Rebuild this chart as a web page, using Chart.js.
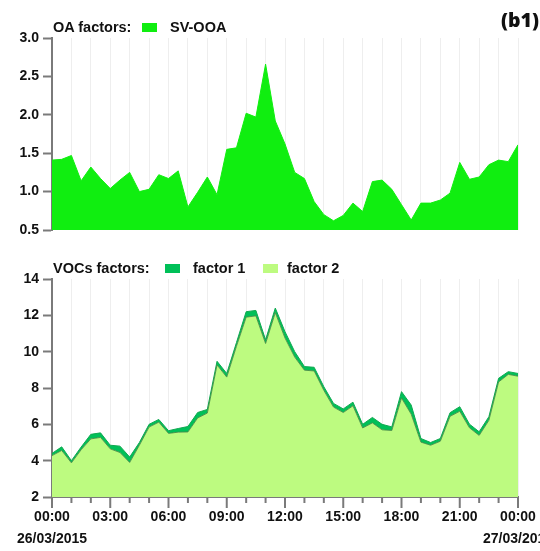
<!DOCTYPE html>
<html>
<head>
<meta charset="utf-8">
<script src="https://cdn.jsdelivr.net/npm/chart.js@4"></script>
<style>
  body { margin: 0; background: #fff; width: 540px; height: 551px; overflow: hidden; position: relative;
         font-family: "Liberation Sans", Arial, sans-serif; font-weight: bold; color: #111; }
  #top { position: absolute; left: 0; top: 0; }
  #bottom { position: absolute; left: 0; top: 245px; }
  .leg { position: absolute; font-size: 14.5px; line-height: 16px; white-space: nowrap; }
  .sw { position: absolute; width: 15px; height: 9px; }
  #tag { position: absolute; right: 1px; top: 6px; font-family: "Open Sans", sans-serif; font-weight: 800; font-size: 19.5px; }
</style>
</head>
<body>
<canvas id="top" width="540" height="245"></canvas>
<canvas id="bottom" width="540" height="306"></canvas>

<div class="leg" style="left:53px; top:19px;">OA factors:</div>
<div class="sw" style="left:142px; top:23px; background:#10ee10;"></div>
<div class="leg" style="left:170px; top:19px;">SV-OOA</div>

<div class="leg" style="left:53px; top:260px;">VOCs factors:</div>
<div class="sw" style="left:165px; top:264px; background:#00c058;"></div>
<div class="leg" style="left:193px; top:260px;">factor 1</div>
<div class="sw" style="left:263px; top:264px; background:#bdfb80;"></div>
<div class="leg" style="left:287px; top:260px;">factor 2</div>

<div id="tag">(b1)</div>

<script>
// half-hourly time of day, 26/03/2015 00:00 -> 27/03/2015 00:00
const hours = [0, 0.5, 1, 1.5, 2, 2.5, 3, 3.5, 4, 4.5, 5, 5.5, 6, 6.5, 7, 7.5, 8, 8.5, 9, 9.5,
  10, 10.5, 11, 11.5, 12, 12.5, 13, 13.5, 14, 14.5, 15, 15.5, 16, 16.5, 17, 17.5, 18, 18.5, 19, 19.5,
  20, 20.5, 21, 21.5, 22, 22.5, 23, 23.5, 24];

const svOOA = [1.41, 1.42, 1.47, 1.14, 1.32, 1.17, 1.04, 1.15, 1.25, 1.00, 1.03, 1.22, 1.17, 1.27, 0.80, 0.99,
  1.19, 0.96, 1.55, 1.57, 2.02, 1.97, 2.66, 1.92, 1.62, 1.25, 1.17, 0.87, 0.70, 0.62, 0.69, 0.85,
  0.74, 1.13, 1.15, 1.03, 0.83, 0.63, 0.85, 0.85, 0.89, 0.98, 1.38, 1.16, 1.19, 1.35, 1.41, 1.39, 1.61];

const factor2 = [4.28, 4.56, 3.88, 4.60, 5.20, 5.28, 4.65, 4.45, 3.90, 4.85, 5.85, 6.12, 5.50, 5.57, 5.58, 6.35,
  6.62, 9.27, 8.60, 10.30, 11.90, 11.97, 10.45, 12.15, 10.75, 9.70, 8.98, 8.94, 7.87, 6.95, 6.65, 7.02,
  5.80, 6.08, 5.70, 5.66, 7.45, 6.56, 5.02, 4.85, 5.07, 6.44, 6.72, 5.81, 5.39, 6.22, 8.33, 8.75, 8.65];

const factor1 = [0.12, 0.20, 0.12, 0.15, 0.25, 0.25, 0.20, 0.35, 0.30, 0.15, 0.15, 0.15, 0.15, 0.20, 0.30, 0.30,
  0.20, 0.20, 0.20, 0.20, 0.30, 0.30, 0.20, 0.25, 0.35, 0.30, 0.20, 0.20, 0.20, 0.20, 0.20, 0.20,
  0.20, 0.30, 0.30, 0.20, 0.35, 0.50, 0.20, 0.15, 0.15, 0.20, 0.25, 0.20, 0.20, 0.20, 0.20, 0.15, 0.15];

const startDate = '26/03/2015';
const endDate = '27/03/2015';

const axisGray = '#7a7a7a';
const tickFont = { family: 'Liberation Sans', weight: 'bold', size: 14 };

const pts = arr => arr.map((v, i) => ({ x: hours[i], y: v }));
const hh = v => String(v % 24).padStart(2, '0') + ':00';

function yScale(min, max, step, fmt) {
  return {
    min: min, max: max, stacked: true,
    afterFit: s => { s.width = 52; },
    border: { display: true, color: axisGray, width: 2 },
    grid: { drawOnChartArea: false, color: axisGray, tickLength: 9, tickWidth: 2 },
    ticks: { stepSize: step, color: '#111', font: tickFont, padding: 4, callback: fmt }
  };
}

// OA factors
new Chart(document.getElementById('top'), {
  type: 'line',
  data: {
    datasets: [{
      label: 'SV-OOA',
      data: pts(svOOA),
      backgroundColor: '#10ee10',
      borderColor: '#10ee10',
      borderWidth: 1,
      pointRadius: 0,
      fill: 'start'
    }]
  },
  options: {
    responsive: false, animation: false,
    layout: { padding: { top: 38, right: 22, bottom: 15, left: 0 } },
    plugins: { legend: { display: false }, tooltip: { enabled: false } },
    scales: {
      x: {
        type: 'linear', min: 0, max: 24,
        afterFit: s => { s.height = 0; },
        border: { display: false },
        grid: { color: '#eeeeee', drawTicks: false },
        ticks: { display: false, stepSize: 1 }
      },
      y: yScale(0.5, 3.0, 0.5, v => v.toFixed(1))
    }
  }
});

// draws hour tick marks (long every 3 h) and the dates under the first / last label
const timeAxis = {
  id: 'timeAxis',
  afterDraw(chart) {
    const ctx = chart.ctx, x = chart.scales.x, b = chart.chartArea.bottom;
    ctx.save();
    ctx.strokeStyle = axisGray;
    ctx.lineWidth = 2;
    for (let h = 0; h <= 24; h++) {
      const px = x.getPixelForValue(h);
      ctx.beginPath();
      ctx.moveTo(px, b);
      ctx.lineTo(px, b + (h % 3 === 0 ? 11 : 6));
      ctx.stroke();
    }
    ctx.fillStyle = '#111';
    ctx.font = 'bold 14px "Liberation Sans"';
    ctx.textAlign = 'center';
    ctx.textBaseline = 'middle';
    ctx.fillText(startDate, x.getPixelForValue(0), b + 42);
    ctx.fillText(endDate, x.getPixelForValue(24), b + 42);
    ctx.restore();
  }
};

// VOCs factors
new Chart(document.getElementById('bottom'), {
  type: 'line',
  data: {
    datasets: [{
      label: 'factor 2',
      data: pts(factor2),
      backgroundColor: '#bdfb80',
      borderColor: 'rgba(70,140,70,0.9)',
      borderWidth: 1,
      pointRadius: 0,
      fill: 'start'
    }, {
      label: 'factor 1',
      data: pts(factor1),
      backgroundColor: '#00c058',
      borderColor: '#10a850',
      borderWidth: 1,
      pointRadius: 0,
      fill: '-1'
    }]
  },
  options: {
    responsive: false, animation: false,
    layout: { padding: { top: 34, right: 22, bottom: 0, left: 0 } },
    plugins: { legend: { display: false }, tooltip: { enabled: false } },
    scales: {
      x: {
        type: 'linear', min: 0, max: 24,
        afterFit: s => { s.height = 54; s.paddingLeft = 0; s.paddingRight = 0; },
        border: { display: true, color: axisGray, width: 2 },
        grid: { color: '#eeeeee', drawTicks: false },
        ticks: {
          stepSize: 1, autoSkip: false, maxRotation: 0, padding: 12,
          color: '#111', font: tickFont,
          callback: v => (v % 3 === 0 ? hh(v) : '')
        }
      },
      y: yScale(2, 14, 2, v => v)
    }
  },
  plugins: [timeAxis]
});
</script>
</body>
</html>
